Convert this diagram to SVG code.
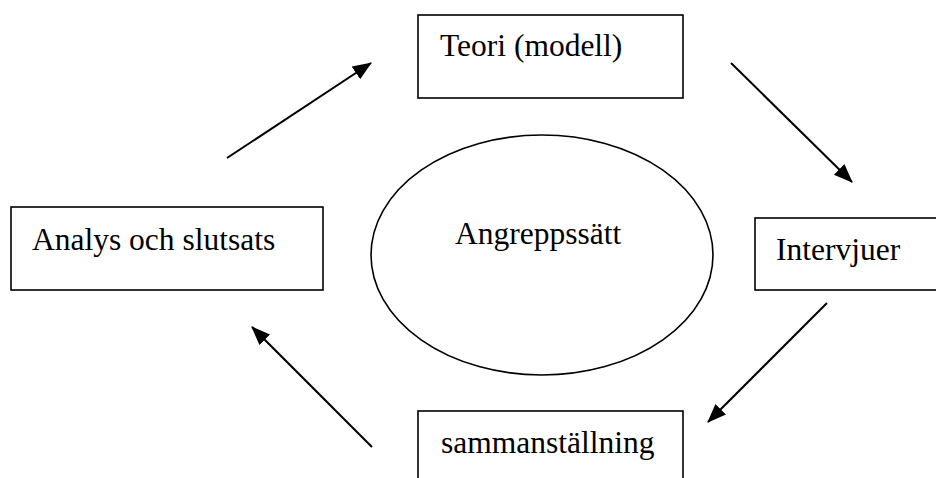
<svg xmlns="http://www.w3.org/2000/svg" width="936" height="478" viewBox="0 0 936 478">
<style>
.box{fill:#fff;stroke:#000;stroke-width:1.6}
.lbl{font-family:"Liberation Serif","Times New Roman",serif;font-size:31.5px;fill:#000}
.con{stroke:#000;stroke-width:2;fill:none;marker-end:url(#ah)}
</style>
<defs>
<marker id="ah" markerUnits="userSpaceOnUse" markerWidth="20" markerHeight="16" refX="18" refY="7.5" orient="auto">
<path d="M0,0 L19,7.5 L0,15 z" fill="#000"/>
</marker>
</defs>
<rect width="936" height="478" fill="#fff"/>
<g id="teori"><rect class="box" x="418" y="15" width="265" height="83"/><text class="lbl" x="440" y="56">Teori (modell)</text></g>
<g id="analys"><rect class="box" x="11" y="207" width="312" height="83"/><text class="lbl" x="32" y="250">Analys och slutsats</text></g>
<g id="intervjuer"><rect class="box" x="755" y="218" width="200" height="72"/><text class="lbl" x="776" y="260">Intervjuer</text></g>
<g id="sammanstallning"><rect class="box" x="418" y="411" width="265" height="90"/><text class="lbl" x="441" y="453">sammanställning</text></g>
<g id="angreppssatt"><ellipse class="box" cx="542" cy="255" rx="171" ry="120"/><text class="lbl" x="455" y="244">Angreppssätt</text></g>
<g id="connectors">
<line class="con" x1="227" y1="158" x2="371" y2="63"/>
<line class="con" x1="731" y1="63" x2="852" y2="182"/>
<line class="con" x1="827" y1="303" x2="708" y2="422"/>
<line class="con" x1="372" y1="447" x2="252" y2="327"/>
</g>
</svg>
